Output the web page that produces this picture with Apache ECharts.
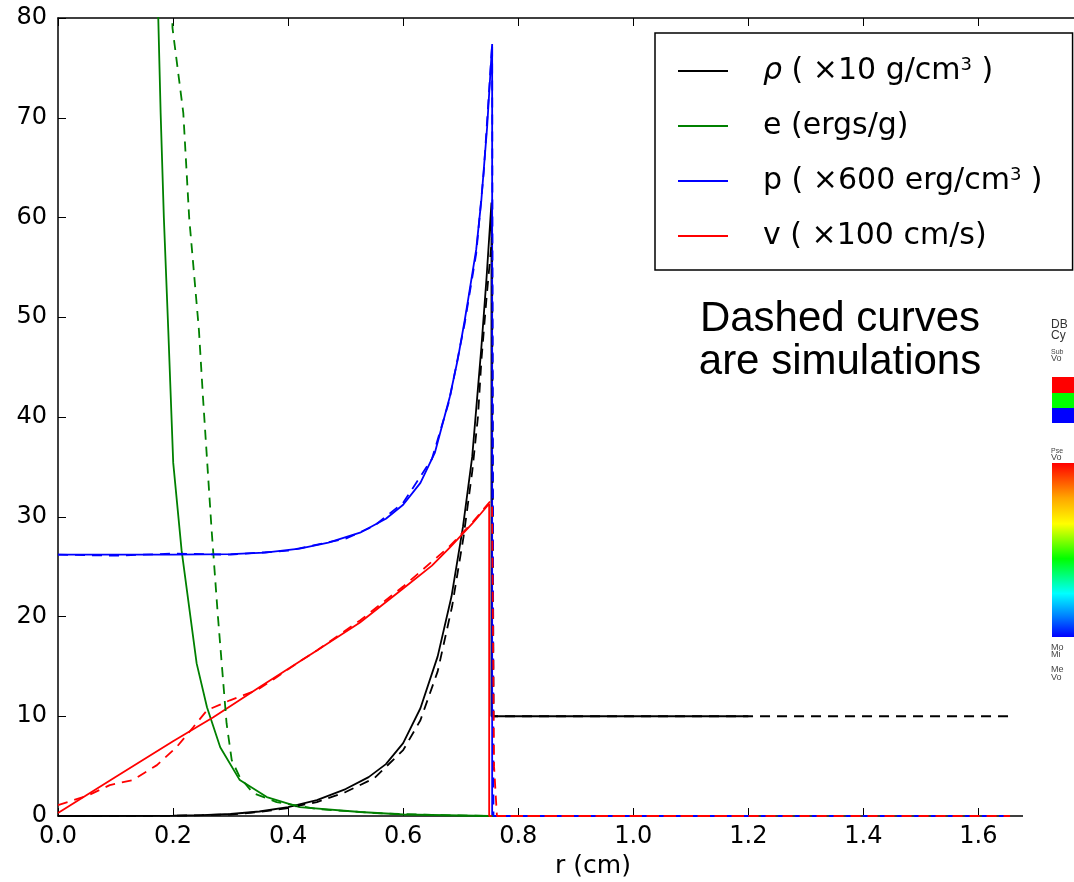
<!DOCTYPE html>
<html>
<head>
<meta charset="utf-8">
<script src="https://cdn.jsdelivr.net/npm/echarts@6/dist/echarts.min.js"></script>
<style>
html,body{margin:0;padding:0;background:#fff;}
#chart{width:1074px;height:882px;}
</style>
</head>
<body>
<div id="chart"></div>
<script>
// ---- data: [r (cm), value] ----
const rhoExact = [[0,0],[0.15,0.01],[0.2,0.03],[0.25,0.08],[0.3,0.2],[0.35,0.45],[0.4,0.9],[0.45,1.6],[0.5,2.7],[0.54,3.9],[0.57,5.2],[0.6,7.3],[0.63,10.8],[0.66,16],[0.684,22],[0.704,29],[0.72,36],[0.736,47],[0.745,54],[0.7535,61.5],[0.7535,10],[1.2,10]];
const rhoSim = [[0,0],[0.2,0.02],[0.3,0.15],[0.35,0.4],[0.4,0.8],[0.45,1.4],[0.5,2.4],[0.55,3.8],[0.6,6.6],[0.63,9.6],[0.66,14.5],[0.685,21],[0.705,28],[0.72,34.5],[0.73,40],[0.736,45.7],[0.745,52],[0.7545,58],[0.757,10],[1.655,10]];
const eExact = [[0.166,100],[0.1743,80],[0.1784,70.5],[0.184,60],[0.1917,48.7],[0.2003,35.4],[0.2149,26.6],[0.241,15.3],[0.259,10.9],[0.282,6.9],[0.316,3.6],[0.363,1.9],[0.42,0.9],[0.525,0.4],[0.6,0.15],[0.7,0.05],[0.75,0],[1.2,0]];
const eSim = [[0.196,88],[0.199,79],[0.2178,70.5],[0.228,60],[0.245,48.7],[0.252,42],[0.267,28.7],[0.278,20],[0.293,9.3],[0.302,5.6],[0.316,3.9],[0.339,2.3],[0.38,1.4],[0.45,0.7],[0.55,0.3],[0.65,0.1],[0.757,0],[1.655,0]];
const pExact = [[0,26.2],[0.2,26.2],[0.3,26.25],[0.36,26.4],[0.42,26.8],[0.47,27.4],[0.525,28.4],[0.57,29.8],[0.6,31.2],[0.63,33.4],[0.655,36.4],[0.681,42],[0.695,45.8],[0.707,49.7],[0.713,51.8],[0.727,56.8],[0.736,61.8],[0.746,69.1],[0.7547,77.4],[0.7547,0],[1.2,0]];
const pSim = [[0,26.2],[0.1,26.1],[0.2,26.3],[0.3,26.2],[0.4,26.6],[0.5,27.8],[0.55,29.1],[0.6,31.4],[0.65,35.8],[0.68,41.6],[0.707,49.4],[0.727,56.4],[0.74,64.5],[0.7547,77.4],[0.757,0],[1.655,0]];
const vExact = [[0,0.3],[0.1,3.9],[0.2,7.5],[0.27,9.9],[0.35,12.9],[0.45,16.6],[0.525,19.4],[0.6,22.8],[0.65,25.1],[0.681,26.9],[0.72,29.3],[0.7495,31.3],[0.7495,0],[1.2,0]];
const vSim = [[0,1.1],[0.05,2.0],[0.09,3.1],[0.13,3.6],[0.172,5.1],[0.206,6.9],[0.235,8.9],[0.259,10.6],[0.299,11.6],[0.345,12.6],[0.38,13.9],[0.415,15.3],[0.45,16.6],[0.485,18.0],[0.525,19.6],[0.6,23.0],[0.68,27.0],[0.72,29.4],[0.752,31.6],[0.7545,31],[0.758,5],[0.763,0],[1.655,0]];

const seriesNames = ['rho', 'e', 'p', 'v'];
const legendLabels = {
  rho: '{it|ρ} ( ×10 g/cm{sup|3} )',
  e: 'e (ergs/g)',
  p: 'p ( ×600 erg/cm{sup|3} )',
  v: 'v ( ×100 cm/s)'
};
const colors = { rho: '#000000', e: '#008000', p: '#0000ff', v: '#ff0000' };
const xLabel = 'r (cm)';
const note1 = 'Dashed curves';
const note2 = 'are simulations';

const chart = echarts.init(document.getElementById('chart'), null, { renderer: 'canvas' });

function solid(name, data) {
  return { name: name, type: 'line', data: data, showSymbol: false, symbol: 'none',
    color: colors[name], lineStyle: { color: colors[name], width: 1.8 }, z: 3, animation: false };
}
function dashed(name, data) {
  return { name: name + '_sim', type: 'line', data: data, showSymbol: false, symbol: 'none',
    color: colors[name], lineStyle: { color: colors[name], width: 1.8, type: [10, 7] }, z: 3, animation: false };
}

const axisFont = { fontFamily: 'DejaVu Sans', fontSize: 24, color: '#000' };

const option = {
  animation: false,
  backgroundColor: '#fff',
  grid: { left: 58, top: 18, right: -54, bottom: 66, containLabel: false, outerBoundsMode: 'none' },
  xAxis: [{
    type: 'value', min: 0, max: 1.86, interval: 0.2, position: 'bottom',
    name: xLabel, nameLocation: 'middle', nameGap: 34,
    nameTextStyle: { fontFamily: 'DejaVu Sans', fontSize: 25, color: '#000' },
    axisLine: { show: true, onZero: false, lineStyle: { color: '#000', width: 1.5 } },
    axisTick: { show: true, inside: true, length: 8, lineStyle: { color: '#000', width: 1 } },
    axisLabel: Object.assign({ margin: 9, showMaxLabel: false, formatter: v => v.toFixed(1) }, axisFont),
    splitLine: { show: false }
  }, {
    type: 'value', min: 0, max: 1.86, interval: 0.2, position: 'top',
    axisLine: { show: true, onZero: false, lineStyle: { color: '#000', width: 1.5 } },
    axisTick: { show: true, inside: true, length: 8, lineStyle: { color: '#000', width: 1 } },
    axisLabel: { show: false }, splitLine: { show: false }
  }],
  yAxis: [{
    type: 'value', min: 0, max: 80, interval: 10,
    axisLine: { show: true, onZero: false, lineStyle: { color: '#000', width: 1.5 } },
    axisTick: { show: true, inside: true, length: 8, lineStyle: { color: '#000', width: 1 } },
    axisLabel: Object.assign({ margin: 11 }, axisFont),
    splitLine: { show: false }
  }],
  legend: {
    data: seriesNames,
    orient: 'vertical', left: 655, top: 33,
    padding: [23, 30, 19, 23],
    itemGap: 25, itemWidth: 50, itemHeight: 2, icon: 'rect',
    borderColor: '#000', borderWidth: 1.5, backgroundColor: '#fff',
    z: 10,
    formatter: n => legendLabels[n],
    textStyle: {
      fontFamily: 'DejaVu Sans', fontSize: 30, color: '#000', lineHeight: 30,
      padding: [0, 0, 0, 30],
      rich: {
        it: { fontFamily: 'DejaVu Sans', fontStyle: 'italic', fontSize: 30, lineHeight: 30 },
        sup: { fontFamily: 'DejaVu Sans', fontSize: 18, lineHeight: 3, verticalAlign: 'top' }
      }
    }
  },
  graphic: [
    { type: 'rect', z: 1, shape: { x: 1023, y: 23, width: 60, height: 870 }, style: { fill: '#fff' } },
    { type: 'text', z: 5, style: { text: note1, x: 840, y: 319, textAlign: 'center', textVerticalAlign: 'middle', font: '42px "Liberation Sans", Arial, sans-serif', fill: '#000' } },
    { type: 'text', z: 5, style: { text: note2, x: 840, y: 362, textAlign: 'center', textVerticalAlign: 'middle', font: '42px "Liberation Sans", Arial, sans-serif', fill: '#000' } },
    // remnant of the pasted colour-table legend at the right edge
    { type: 'text', z: 5, style: { text: 'DB', x: 1051, y: 325, textVerticalAlign: 'middle', font: '12px "Liberation Sans", sans-serif', fill: '#333' } },
    { type: 'text', z: 5, style: { text: 'Cy', x: 1051, y: 336, textVerticalAlign: 'middle', font: '12px "Liberation Sans", sans-serif', fill: '#333' } },
    { type: 'text', z: 5, style: { text: 'Sub', x: 1051, y: 352, textVerticalAlign: 'middle', font: '7px "Liberation Sans", sans-serif', fill: '#444' } },
    { type: 'text', z: 5, style: { text: 'Vo', x: 1051, y: 359, textVerticalAlign: 'middle', font: '9px "Liberation Sans", sans-serif', fill: '#444' } },
    { type: 'rect', z: 5, shape: { x: 1052, y: 377, width: 30, height: 16 }, style: { fill: '#ff0000' } },
    { type: 'rect', z: 5, shape: { x: 1052, y: 393, width: 30, height: 15 }, style: { fill: '#00ff00' } },
    { type: 'rect', z: 5, shape: { x: 1052, y: 408, width: 30, height: 15 }, style: { fill: '#0000ff' } },
    { type: 'text', z: 5, style: { text: 'Pse', x: 1051, y: 451, textVerticalAlign: 'middle', font: '7px "Liberation Sans", sans-serif', fill: '#444' } },
    { type: 'text', z: 5, style: { text: 'Vo', x: 1051, y: 458, textVerticalAlign: 'middle', font: '9px "Liberation Sans", sans-serif', fill: '#444' } },
    { type: 'rect', z: 5, shape: { x: 1052, y: 463, width: 30, height: 174 },
      style: { fill: new echarts.graphic.LinearGradient(0, 0, 0, 1, [
        { offset: 0, color: '#ff0000' }, { offset: 0.2, color: '#ffa500' }, { offset: 0.35, color: '#ffff00' },
        { offset: 0.55, color: '#00ff00' }, { offset: 0.75, color: '#00ffff' }, { offset: 0.88, color: '#0080ff' },
        { offset: 1, color: '#0000ff' }]) } },
    { type: 'text', z: 5, style: { text: 'Mo', x: 1051, y: 648, textVerticalAlign: 'middle', font: '9px "Liberation Sans", sans-serif', fill: '#444' } },
    { type: 'text', z: 5, style: { text: 'Mi', x: 1051, y: 655, textVerticalAlign: 'middle', font: '9px "Liberation Sans", sans-serif', fill: '#444' } },
    { type: 'text', z: 5, style: { text: 'Me', x: 1051, y: 670, textVerticalAlign: 'middle', font: '9px "Liberation Sans", sans-serif', fill: '#444' } },
    { type: 'text', z: 5, style: { text: 'Vo', x: 1051, y: 678, textVerticalAlign: 'middle', font: '9px "Liberation Sans", sans-serif', fill: '#444' } }
  ],
  series: [
    solid('rho', rhoExact), solid('e', eExact), solid('p', pExact), solid('v', vExact),
    dashed('rho', rhoSim), dashed('e', eSim), dashed('p', pSim), dashed('v', vSim)
  ]
};
chart.setOption(option);
</script>
</body>
</html>
